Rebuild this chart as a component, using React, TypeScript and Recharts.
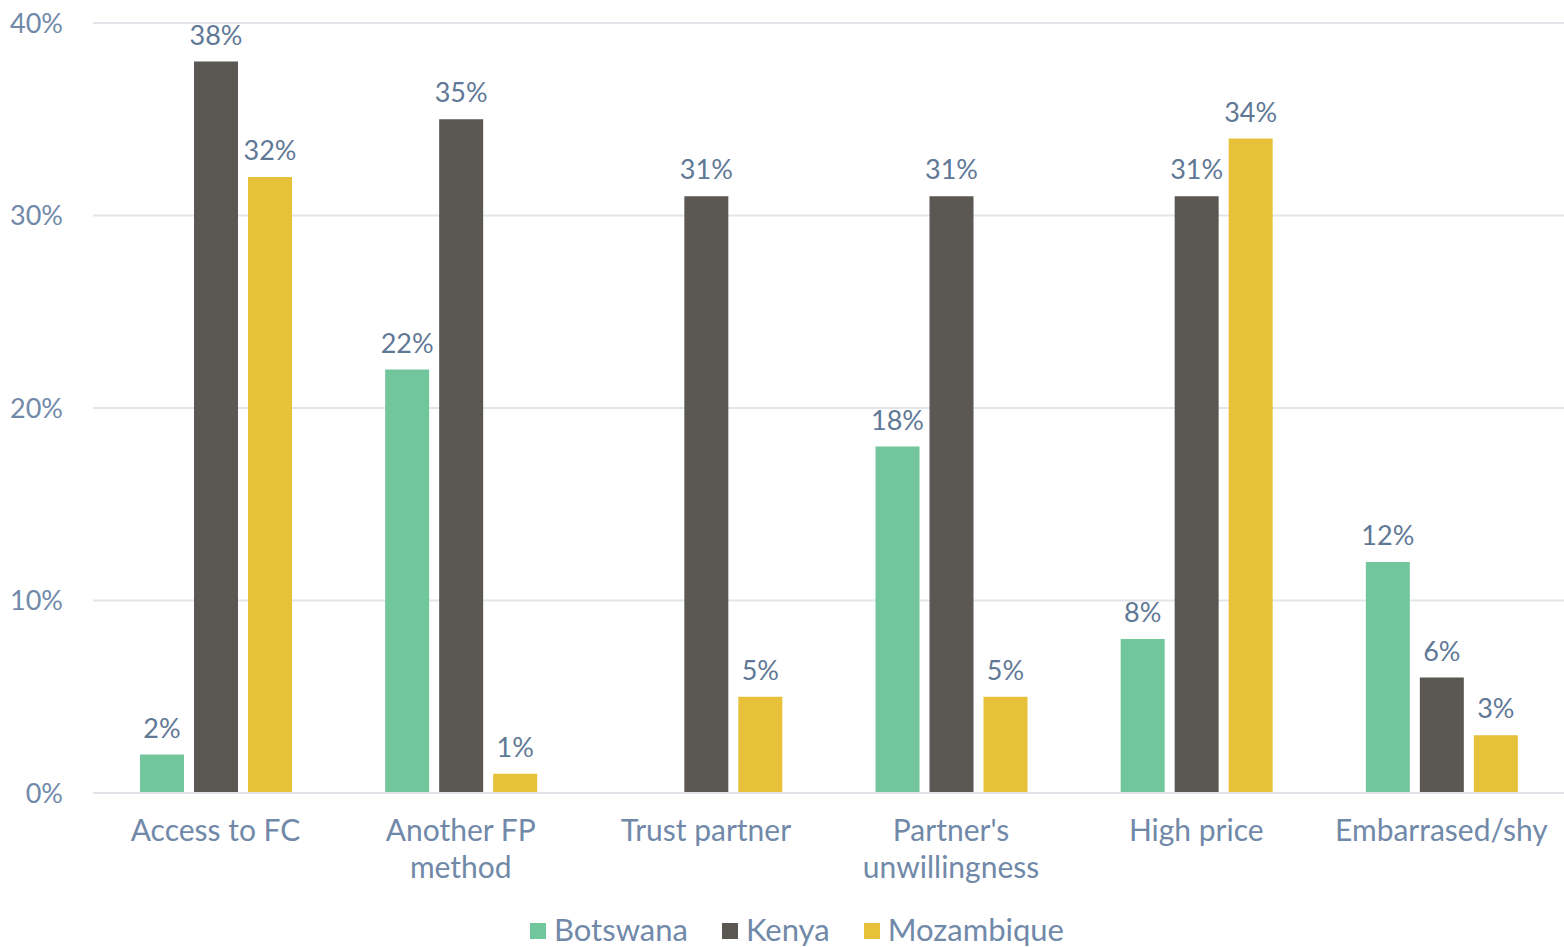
import React from "react";
import { BarChart, Bar, XAxis, YAxis, CartesianGrid, Legend, LabelList } from "recharts";

const categories = ["Access to FC", "Another FP\nmethod", "Trust partner", "Partner's\nunwillingness", "High price", "Embarrased/shy"];
const botswana = [2, 22, null, 18, 8, 12];
const kenya = [38, 35, 31, 31, 31, 6];
const mozambique = [32, 1, 5, 5, 34, 3];
const yTicks = [0, 10, 20, 30, 40];
const seriesNames = ["Botswana", "Kenya", "Mozambique"];
const seriesColors = ["#72c69b", "#5b5753", "#e6c139"];

const data = categories.map((c, i) => ({
  name: c,
  Botswana: botswana[i],
  Kenya: kenya[i],
  Mozambique: mozambique[i],
}));

const FONT = "Lato, 'Noto Sans', sans-serif";
const TEXT = "#7189a9";
const LABEL = "#5f7896";

const XTick = (props: any) => {
  const { x, y, payload } = props;
  const lines = String(payload.value).split("\n");
  return (
    <text x={x} y={y} textAnchor="middle" fill={TEXT} fontSize={30} fontFamily={FONT}>
      {lines.map((l: string, i: number) => (
        <tspan key={i} x={x} dy={i === 0 ? 40 : 37}>{l}</tspan>
      ))}
    </text>
  );
};

const renderLabel = (props: any) => {
  const { x, y, width, value } = props;
  if (value === null || value === undefined) return null;
  return (
    <text x={x + width / 2} y={y - 17} textAnchor="middle" fill={LABEL} fontSize={27} fontFamily={FONT}>
      {value}%
    </text>
  );
};

const LegendContent = () => (
  <div
    style={{
      height: 56,
      boxSizing: "border-box",
      paddingTop: 20,
      display: "flex",
      justifyContent: "center",
      alignItems: "flex-start",
      fontFamily: FONT,
      fontSize: 31,
      lineHeight: "36px",
      color: TEXT,
      paddingLeft: 30,
    }}
  >
    {seriesNames.map((n, i) => (
      <div key={n} style={{ display: "flex", alignItems: "center", marginRight: i < 2 ? 34 : 0 }}>
        <span style={{ display: "inline-block", width: 16, height: 16, background: seriesColors[i], marginRight: 8, marginTop: 3 }} />
        <span>{n}</span>
      </div>
    ))}
  </div>
);

export default function App() {
  return (
    <div style={{ position: "absolute", left: 0, top: 0, background: "#fff" }}>
      <BarChart
        width={1564}
        height={947}
        data={data}
        margin={{ top: 23, right: 0, left: 0, bottom: 0 }}
        barGap={10}
        barSize={44}
      >
        <CartesianGrid vertical={false} stroke="#e2e5ea" strokeWidth={2} />
        <XAxis
          dataKey="name"
          tick={<XTick />}
          tickLine={false}
          axisLine={{ stroke: "#dfe3e8", strokeWidth: 2 }}
          height={98}
          interval={0}
        />
        <YAxis
          domain={[0, 40]}
          ticks={yTicks}
          tickFormatter={(v: number) => `${v}%`}
          axisLine={false}
          tickLine={false}
          width={93}
          tickMargin={24}
          tick={{ fill: TEXT, fontSize: 27, fontFamily: FONT }}
        />
        <Legend verticalAlign="bottom" height={56} content={<LegendContent />} />
        {seriesNames.map((n, i) => (
          <Bar key={n} dataKey={n} fill={seriesColors[i]} isAnimationActive={false}>
            <LabelList dataKey={n} content={renderLabel} />
          </Bar>
        ))}
      </BarChart>
    </div>
  );
}
